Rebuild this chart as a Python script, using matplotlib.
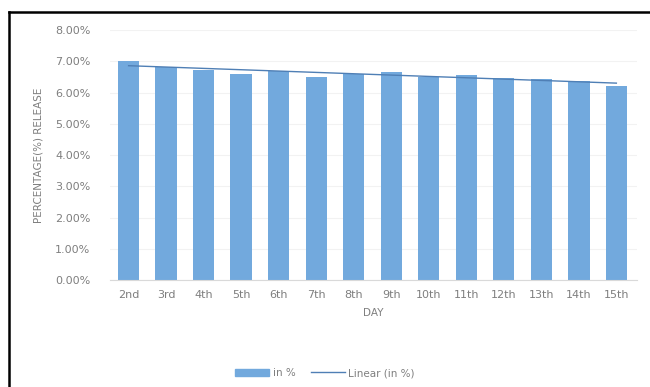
import numpy as np
import matplotlib.pyplot as plt
from matplotlib.lines import Line2D
from matplotlib.patches import Patch

# dados
dias = ['2nd', '3rd', '4th', '5th', '6th', '7th', '8th', '9th',
        '10th', '11th', '12th', '13th', '14th', '15th']
liberacao = [7.00, 6.83, 6.74, 6.59, 6.69, 6.51, 6.59, 6.67,
             6.51, 6.56, 6.47, 6.43, 6.37, 6.21]
yticks = [0, 1, 2, 3, 4, 5, 6, 7, 8]

cor_barra = '#72A9DD'
cor_linha = '#4F7FB5'
cor_texto = '#7F7F7F'

plt.rcParams['font.family'] = ['DejaVu Sans']

fig = plt.figure(figsize=(6.5, 3.87), dpi=100)
ax = fig.add_axes([0.169, 0.2765, 0.811, 0.6455])

x = np.arange(len(dias))
ax.bar(x, liberacao, width=0.57, color=cor_barra, zorder=2)

# linha de tendencia (regressao linear)
coef = np.polyfit(x, liberacao, 1)
ax.plot(x, np.polyval(coef, x), color=cor_linha, linewidth=1.0, zorder=3)

ax.set_xlim(-0.5, 13.55)
ax.set_ylim(0, 8)
ax.set_yticks(yticks)
ax.set_yticklabels([f'{v:.2f}%' for v in yticks])
ax.set_xticks(x)
ax.set_xticklabels(dias)
ax.tick_params(axis='both', length=0, colors=cor_texto, labelsize=8)
ax.tick_params(axis='y', pad=14)
ax.tick_params(axis='x', pad=7)
ax.grid(axis='y', color='#F2F2F2', linewidth=0.8, zorder=0)

for s in ['top', 'right', 'left']:
    ax.spines[s].set_visible(False)
ax.spines['bottom'].set_color('#D9D9D9')

ax.set_xlabel('DAY', color=cor_texto, fontsize=7.5, labelpad=6)
ax.set_ylabel('PERCENTAGE(%) RELEASE', color=cor_texto, fontsize=7.5, labelpad=8)

handles = [Patch(color=cor_barra), Line2D([0], [0], color=cor_linha, linewidth=1.0)]
fig.legend(handles, ['in %', 'Linear (in %)'], loc='center', bbox_to_anchor=(0.5, 0.036),
           ncol=2, frameon=False, fontsize=7.5, labelcolor=cor_texto,
           handlelength=3.3, handletextpad=0.3, columnspacing=1.5)

# moldura preta (so esquerda e topo)
fig.add_artist(Line2D([0.014, 0.014], [0, 0.969], color='black', linewidth=1.8,
                      transform=fig.transFigure))
fig.add_artist(Line2D([0.014, 1.0], [0.969, 0.969], color='black', linewidth=1.8,
                      transform=fig.transFigure))

fig.savefig('out.png', dpi=100)
